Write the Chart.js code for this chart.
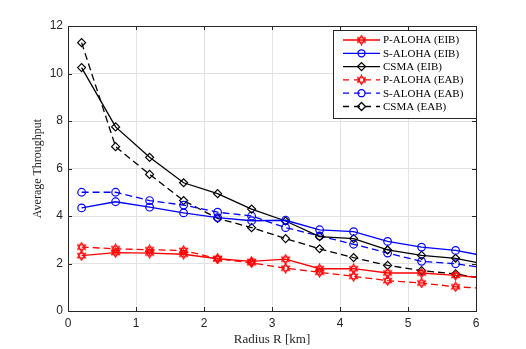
<!DOCTYPE html>
<html>
<head>
<meta charset="utf-8">
<script src="https://cdn.jsdelivr.net/npm/chart.js@4"></script>
<style>
  html, body { margin: 0; padding: 0; background: #fff; }
  #wrap { width: 526px; height: 349px; }
</style>
</head>
<body>
<div id="wrap"><canvas id="chart" width="526" height="349"></canvas></div>
<script>
// ── Data ──────────────────────────────────────────────────────────────────
const radius = [0.2, 0.7, 1.2, 1.7, 2.2, 2.7, 3.2, 3.7, 4.2, 4.7, 5.2, 5.7, 6];

const pAlohaEIB = [2.33, 2.46, 2.44, 2.39, 2.20, 2.09, 2.18, 1.78, 1.78, 1.60, 1.60, 1.50, 1.42];
const sAlohaEIB = [4.34, 4.60, 4.37, 4.13, 3.93, 3.80, 3.82, 3.42, 3.34, 2.93, 2.69, 2.55, 2.39];
const csmaEIB   = [10.25, 7.75, 6.47, 5.40, 4.94, 4.29, 3.79, 3.13, 3.05, 2.57, 2.34, 2.22, 2.05];
const pAlohaEAB = [2.69, 2.62, 2.58, 2.55, 2.20, 2.03, 1.80, 1.63, 1.46, 1.28, 1.18, 1.02, 0.97];
const sAlohaEAB = [5.00, 5.00, 4.65, 4.46, 4.16, 4.00, 3.51, 3.16, 2.81, 2.44, 2.09, 1.99, 1.87];
const csmaEAB   = [11.30, 6.92, 5.75, 4.65, 3.90, 3.51, 3.05, 2.62, 2.25, 1.92, 1.70, 1.56, 1.42];

const xTicks = [0, 1, 2, 3, 4, 5, 6];
const yTicks = [0, 2, 4, 6, 8, 10, 12];

const seriesLabels = ['P-ALOHA (EIB)', 'S-ALOHA (EIB)', 'CSMA (EIB)',
                      'P-ALOHA (EAB)', 'S-ALOHA (EAB)', 'CSMA (EAB)'];

// ── Marqueur hexagramme (étoile à six branches) ───────────────────────────
function hexagram(color) {
  const c = document.createElement('canvas');
  c.width = 11; c.height = 11;
  const g = c.getContext('2d');
  g.strokeStyle = color;
  g.lineWidth = 1.1;
  const cx = 5.5, cy = 5.5, r = 4.6;
  for (const off of [-Math.PI / 2, Math.PI / 2]) {
    g.beginPath();
    for (let i = 0; i < 3; i++) {
      const a = off + i * 2 * Math.PI / 3;
      const px = cx + r * Math.cos(a), py = cy + r * Math.sin(a);
      i ? g.lineTo(px, py) : g.moveTo(px, py);
    }
    g.closePath();
    g.stroke();
  }
  return c;
}
const hexRed = hexagram('#ff0000');

const RED = '#ff0000', BLUE = '#0000ff', BLACK = '#000000';
const DASH = [7, 4];

const styles = [
  { color: RED,   marker: hexRed,   r: 5, dash: [] },
  { color: BLUE,  marker: 'circle', r: 3.8, dash: [] },
  { color: BLACK, marker: 'rectRot', r: 4, dash: [] },
  { color: RED,   marker: hexRed,   r: 5, dash: DASH },
  { color: BLUE,  marker: 'circle', r: 3.8, dash: DASH },
  { color: BLACK, marker: 'rectRot', r: 4, dash: DASH },
];
const values = [pAlohaEIB, sAlohaEIB, csmaEIB, pAlohaEAB, sAlohaEAB, csmaEAB];

const datasets = values.map((v, i) => {
  const s = styles[i];
  return {
    label: seriesLabels[i],
    data: v.map((y, k) => ({ x: radius[k], y })),
    borderColor: s.color,
    backgroundColor: 'rgba(0,0,0,0)',
    borderWidth: 1.3,
    borderDash: s.dash,
    pointStyle: s.marker,
    pointRadius: radius.map((x, k) => k === radius.length - 1 ? 0 : s.r),
    pointBorderColor: s.color,
    pointBackgroundColor: 'rgba(0,0,0,0)',
    pointBorderWidth: 1.2,
    tension: 0,
    fill: false,
  };
});

// ── Cadre + légende dessinés à la main ────────────────────────────────────
const frameAndLegend = {
  id: 'frameAndLegend',
  afterDraw(chart) {
    const { ctx, chartArea: a } = chart;
    ctx.save();
    ctx.strokeStyle = '#262626';
    ctx.lineWidth = 1;
    ctx.strokeRect(Math.round(a.left) + 0.5, Math.round(a.top) + 0.5,
                   Math.round(a.right - a.left), Math.round(a.bottom - a.top));

    // inward tick marks
    const xs = chart.scales.x, ys = chart.scales.y;
    ctx.beginPath();
    xTicks.forEach(t => {
      const px = Math.round(xs.getPixelForValue(t)) + 0.5;
      ctx.moveTo(px, a.bottom); ctx.lineTo(px, a.bottom - 4);
      ctx.moveTo(px, a.top); ctx.lineTo(px, a.top + 4);
    });
    yTicks.forEach(t => {
      const py = Math.round(ys.getPixelForValue(t)) + 0.5;
      ctx.moveTo(a.left, py); ctx.lineTo(a.left + 4, py);
      ctx.moveTo(a.right, py); ctx.lineTo(a.right - 4, py);
    });
    ctx.stroke();

    // legend box
    const lx = 333.5, ly = 30.5, lw = 143, lh = 88;
    ctx.fillStyle = '#fff';
    ctx.fillRect(lx, ly, lw, lh);
    ctx.strokeStyle = '#262626';
    ctx.strokeRect(lx, ly, lw, lh);
    ctx.font = '11px "Liberation Serif"';
    ctx.textBaseline = 'middle';
    styles.forEach((s, i) => {
      const y = 40 + i * 13.3;
      ctx.strokeStyle = s.color;
      ctx.lineWidth = 1.3;
      ctx.setLineDash(s.dash.length ? [6, 5] : []);
      ctx.beginPath();
      ctx.moveTo(343, y); ctx.lineTo(380, y);
      ctx.stroke();
      ctx.setLineDash([]);
      const mx = 361.5;
      if (s.marker === 'circle') {
        ctx.beginPath(); ctx.arc(mx, y, 3.5, 0, 2 * Math.PI); ctx.stroke();
      } else if (s.marker === 'rectRot') {
        ctx.beginPath();
        ctx.moveTo(mx, y - 4); ctx.lineTo(mx + 4, y); ctx.lineTo(mx, y + 4); ctx.lineTo(mx - 4, y);
        ctx.closePath(); ctx.stroke();
      } else {
        ctx.drawImage(s.marker, mx - 5.5, y - 5.5);
      }
      ctx.fillStyle = '#000';
      ctx.fillText(seriesLabels[i], 383, y + 0.5);
    });
    ctx.restore();
  },
};

new Chart(document.getElementById('chart'), {
  type: 'line',
  data: { datasets },
  plugins: [frameAndLegend],
  options: {
    responsive: false,
    animation: false,
    layout: { padding: { left: 0, right: 50, top: 26, bottom: 0 } },
    plugins: { legend: { display: false }, tooltip: { enabled: false } },
    scales: {
      x: {
        type: 'linear',
        min: 0, max: 6,
        afterBuildTicks: s => { s.ticks = xTicks.map(v => ({ value: v })); },
        afterFit: s => { s.height = 38; },
        ticks: { color: '#262626', font: { family: '"Liberation Sans"', size: 12 }, padding: 5, maxRotation: 0 },
        grid: { color: '#e3e3e3', drawTicks: false },
        border: { color: '#262626' },
        title: {
          display: true, text: 'Radius R [km]', color: '#262626',
          font: { family: '"Liberation Serif"', size: 13 },
          padding: { top: 0, bottom: 2 },
        },
      },
      y: {
        min: 0, max: 12,
        afterBuildTicks: s => { s.ticks = yTicks.map(v => ({ value: v })); },
        afterFit: s => { s.width = 68; },
        ticks: { color: '#262626', font: { family: '"Liberation Sans"', size: 12 }, padding: 5 },
        grid: { color: '#e3e3e3', drawTicks: false },
        border: { color: '#262626' },
        title: {
          display: true, text: 'Average Throughput', color: '#262626',
          font: { family: '"Liberation Serif"', size: 12 },
          padding: { top: 31, bottom: 0 },
        },
      },
    },
  },
});
</script>
</body>
</html>
